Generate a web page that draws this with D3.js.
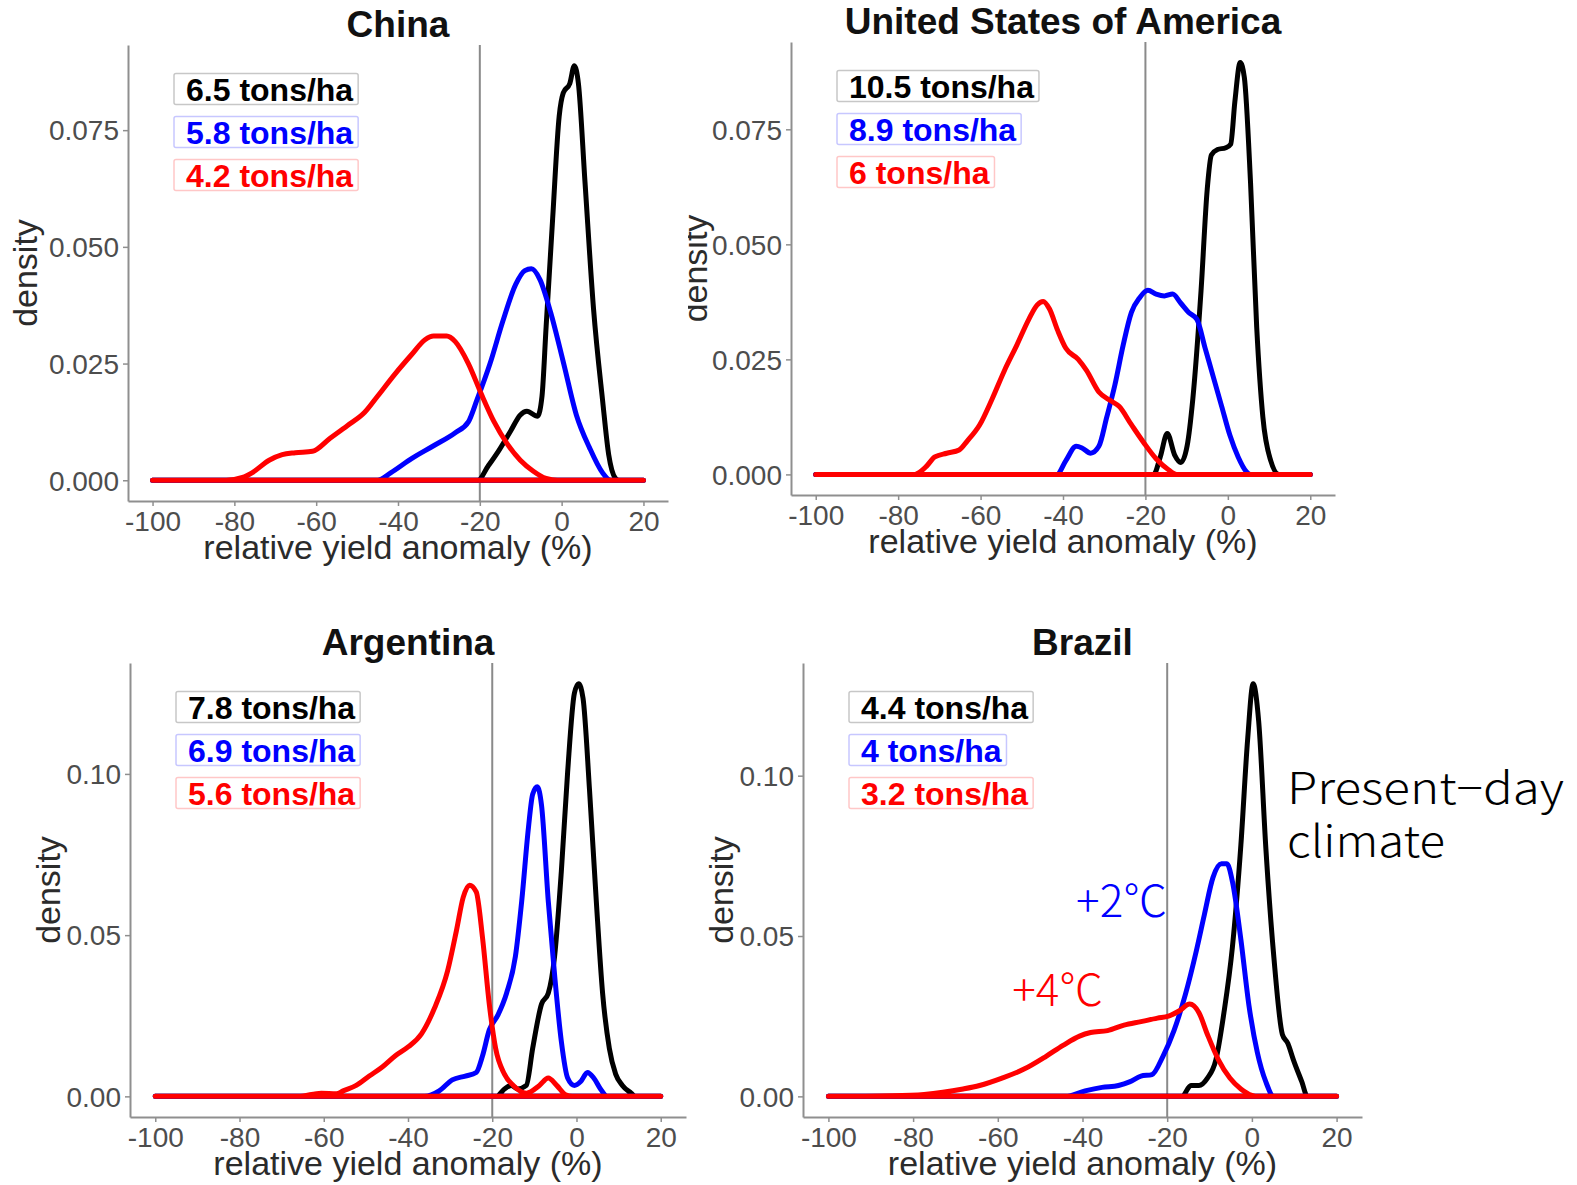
<!DOCTYPE html>
<html>
<head>
<meta charset="utf-8">
<script src="https://cdn.jsdelivr.net/npm/d3@7"></script>
<style>
  body { margin: 0; background: #ffffff; }
  svg { display: block; }
</style>
</head>
<body>
<svg id="fig" width="1577" height="1185"></svg>
<script>
// ---------- shared axis values ----------
const xTicks = [-100, -80, -60, -40, -20, 0, 20];
const yTicksFine = [0, 0.025, 0.05, 0.075];
const yTicksCoarse = [0, 0.05, 0.10];
const thresholdLine = -20;               // reference anomaly (%)
const seriesColors = ["#000000", "#0000ff", "#ff0000"];

// ---------- panel titles and mean yields ----------
const panelTitles = ["China", "United States of America", "Argentina", "Brazil"];
const chinaYields = ["6.5 tons/ha", "5.8 tons/ha", "4.2 tons/ha"];
const usaYields = ["10.5 tons/ha", "8.9 tons/ha", "6 tons/ha"];
const argentinaYields = ["7.8 tons/ha", "6.9 tons/ha", "5.6 tons/ha"];
const brazilYields = ["4.4 tons/ha", "4 tons/ha", "3.2 tons/ha"];

// ---------- density curves: [relative yield anomaly (%), density] ----------
const chinaPresent = [[-100,0],[-20.5,0],[-18,0.003],[-15.4,0.0063],[-12.5,0.0105],[-10.1,0.014],[-8.5,0.0148],[-5.9,0.0137],[-4.8,0.018],[-3.8,0.0328],[-2.2,0.056],[-0.6,0.078],[0.4,0.083],[2,0.085],[3.1,0.0888],[4.1,0.085],[5.7,0.064],[7.8,0.0367],[10,0.0172],[11.5,0.0055],[13.1,0.0005],[14,0],[20,0]];
const chinaPlus2 = [[-100,0],[-45,0],[-41.8,0.0016],[-36.6,0.0047],[-31.3,0.0074],[-26,0.0102],[-22.8,0.0125],[-20.7,0.0172],[-17.5,0.025],[-14.4,0.034],[-11.2,0.042],[-9,0.0449],[-7.4,0.0453],[-5.3,0.043],[-2.7,0.036],[0.5,0.025],[3.6,0.014],[6.8,0.007],[10,0.0016],[12,0],[20,0]];
const chinaPlus4 = [[-100,0],[-82,0],[-78,0.0006],[-75.7,0.0016],[-71.5,0.0043],[-68.3,0.0055],[-65.1,0.0059],[-60.9,0.0062],[-56.6,0.009],[-52.4,0.0117],[-48.2,0.0145],[-45,0.018],[-40.8,0.0227],[-36.6,0.027],[-33.4,0.0301],[-31.3,0.0309],[-28.1,0.0309],[-26,0.0297],[-22.8,0.025],[-19.6,0.0184],[-16.5,0.0125],[-13.3,0.0078],[-10.1,0.0043],[-7,0.002],[-3.8,0.0004],[-1,0],[20,0]];

const usaPresent = [[-100,0],[-18,0],[-16.4,0.0038],[-14.7,0.0089],[-12.9,0.0042],[-11.4,0.0026],[-9.9,0.0061],[-8.5,0.0164],[-6.5,0.040],[-5,0.062],[-4,0.0694],[-2.5,0.0706],[-0.5,0.071],[0.7,0.0718],[1.7,0.081],[3,0.0895],[4,0.0863],[5.5,0.0635],[7,0.032],[8.5,0.0124],[10.4,0.003],[12.4,0],[20,0]];
const usaPlus2 = [[-100,0],[-41.5,0],[-39.3,0.003],[-36.8,0.0061],[-35.3,0.0057],[-33.3,0.0046],[-31.3,0.0061],[-29.4,0.0124],[-27.4,0.0195],[-25.4,0.0281],[-23.4,0.0352],[-21.4,0.0384],[-19.4,0.040],[-17.4,0.0392],[-15.4,0.0388],[-13.4,0.0392],[-11.4,0.0372],[-9.5,0.0352],[-7.5,0.0337],[-5.5,0.0274],[-3.5,0.0211],[-1.5,0.0148],[0.5,0.0085],[2.5,0.0038],[4.5,0.0006],[5.5,0],[20,0]];
const usaPlus4 = [[-100,0],[-76,0],[-75.1,0.0003],[-73.1,0.0018],[-71.1,0.0038],[-68.2,0.0046],[-65.2,0.0053],[-63.2,0.0073],[-60.2,0.0108],[-57.2,0.0164],[-54.2,0.0226],[-51.2,0.0281],[-48.3,0.0337],[-46.3,0.0368],[-44.8,0.0376],[-43.3,0.036],[-41.3,0.0313],[-39.3,0.0274],[-36.3,0.025],[-34.3,0.0226],[-31.3,0.0179],[-28.4,0.016],[-26.4,0.0148],[-23.4,0.0108],[-20.4,0.0069],[-17.4,0.0034],[-14.4,0.001],[-12.4,0],[20,0]];

const argentinaPresent = [[-100,0],[-19,0],[-17.1,0.0023],[-15.5,0.0034],[-14,0.0023],[-11.9,0.0034],[-10.4,0.0149],[-8.3,0.0286],[-6.7,0.032],[-5.2,0.0434],[-3.6,0.0697],[-2.1,0.1006],[-0.5,0.125],[0.5,0.128],[1.55,0.1235],[3.1,0.0949],[4.7,0.0606],[6.2,0.032],[7.8,0.0149],[9.3,0.0069],[10.9,0.0034],[13,0.001],[14,0],[20,0]];
const argentinaPlus2 = [[-100,0],[-36,0],[-32.6,0.0017],[-29.5,0.0051],[-26.4,0.0063],[-23.8,0.0074],[-22.3,0.0126],[-20.7,0.0206],[-18.7,0.0251],[-16.6,0.032],[-14.5,0.0434],[-13,0.0606],[-11.4,0.0834],[-10.4,0.0937],[-9.3,0.096],[-8.3,0.0903],[-6.7,0.0606],[-5.2,0.0377],[-3.6,0.0171],[-2.1,0.0057],[-0.5,0.0034],[1,0.0046],[2.6,0.0074],[4.1,0.0057],[5.7,0.0023],[7.3,0],[20,0]];
const argentinaPlus4 = [[-100,0],[-66,0],[-60.6,0.001],[-57,0.0008],[-55.4,0.0017],[-52.3,0.0034],[-49.2,0.0063],[-46.1,0.0091],[-43,0.0126],[-39.9,0.0154],[-36.8,0.0194],[-33.7,0.0274],[-30.6,0.0389],[-28.5,0.0514],[-26.9,0.0617],[-25.4,0.0655],[-23.8,0.0634],[-22.3,0.0491],[-20.7,0.0286],[-19.2,0.0149],[-17.1,0.0069],[-15,0.0034],[-11.9,0.001],[-8.8,0.0034],[-6.7,0.0057],[-4.7,0.0034],[-2.6,0.0005],[-1,0],[20,0]];

const brazilPresent = [[-100,0],[-16.5,0],[-14.4,0.0034],[-12.5,0.0034],[-10.5,0.0057],[-8.5,0.0114],[-6.6,0.0261],[-4.6,0.0466],[-2.6,0.0784],[-1,0.1114],[0.3,0.1287],[1.6,0.117],[3.3,0.0773],[5.2,0.0432],[7.2,0.0193],[8.5,0.0165],[9.8,0.0114],[11.8,0.0045],[13.1,0],[20,0]];
const brazilPlus2 = [[-100,0],[-44,0],[-39.4,0.0017],[-35.4,0.0028],[-31.5,0.0034],[-28.9,0.0045],[-26.2,0.0063],[-23.6,0.0068],[-21,0.0125],[-18.4,0.0205],[-15.7,0.0318],[-13.1,0.0455],[-11.2,0.0568],[-9.2,0.0682],[-7.2,0.0725],[-5.9,0.0725],[-4.6,0.067],[-2.6,0.0489],[-0.7,0.0284],[1.3,0.0136],[3.3,0.0045],[5.2,0],[20,0]];
const brazilPlus4 = [[-100,0],[-85,0.0002],[-77.4,0.0006],[-68.2,0.0023],[-64.3,0.0034],[-59,0.0057],[-53.8,0.0085],[-48.6,0.0125],[-44.6,0.0159],[-40.7,0.0188],[-38.1,0.0199],[-34.1,0.0205],[-30.2,0.0222],[-26.2,0.0233],[-22.3,0.0244],[-19.7,0.025],[-17.1,0.0267],[-14.7,0.0288],[-12.5,0.0261],[-10.5,0.0193],[-7.9,0.0114],[-5.2,0.0057],[-2.6,0.0023],[0,0.0003],[1.5,0],[20,0]];

// ---------- scenario labels placed in the Brazil panel (data coords) ----------
const scenarioLabels = [
  { lines: ["Present\u2212day", "climate"], x: 8.3, y: [0.0911, 0.0745], widths: [277, 158], color: "#000000", anchor: "start", size: 44 },
  { lines: ["+2\u2103"], x: -20, y: [0.0558], widths: [null], color: "#0000ff", anchor: "end", size: 44 },
  { lines: ["+4\u2103"], x: -35.1, y: [0.0282], widths: [null], color: "#ff0000", anchor: "end", size: 44 }
];

// ---------- layout ----------
const sansFont = "'Liberation Sans', Arial, Helvetica, sans-serif";
const annotFont = "'Noto Sans CJK KR', 'Noto Sans', sans-serif";

const panels = [
  { title: panelTitles[0], yields: chinaYields, series: [chinaPresent, chinaPlus2, chinaPlus4],
    yTicks: yTicksFine, yFmt: d3.format(".3f"), box: { left: 128, right: 668, top: 45, bottom: 501 }, ylabX: 37 },
  { title: panelTitles[1], yields: usaYields, series: [usaPresent, usaPlus2, usaPlus4],
    yTicks: yTicksFine, yFmt: d3.format(".3f"), box: { left: 791, right: 1335, top: 42, bottom: 495 }, ylabX: 707, ylabClip: 688 },
  { title: panelTitles[2], yields: argentinaYields, series: [argentinaPresent, argentinaPlus2, argentinaPlus4],
    yTicks: yTicksCoarse, yFmt: d3.format(".2f"), box: { left: 130, right: 686, top: 663, bottom: 1117 }, ylabX: 60 },
  { title: panelTitles[3], yields: brazilYields, series: [brazilPresent, brazilPlus2, brazilPlus4],
    yTicks: yTicksCoarse, yFmt: d3.format(".2f"), box: { left: 803, right: 1362, top: 663, bottom: 1117 }, ylabX: 733,
    labels: scenarioLabels }
];

const svg = d3.select("#fig");
svg.append("rect").attr("width", 1577).attr("height", 1185).attr("fill", "#ffffff");
const defs = svg.append("defs");

panels.forEach((p, pi) => {
  const b = p.box;
  const g = svg.append("g").attr("class", "panel");

  // ggplot-style 5% expansion on both axes
  const xLo = d3.min(xTicks), xHi = d3.max(xTicks), xPad = (xHi - xLo) * 0.05;
  const x = d3.scaleLinear().domain([xLo - xPad, xHi + xPad]).range([b.left, b.right]);
  const yMax = d3.max(p.series, s => d3.max(s, d => d[1]));
  const y = d3.scaleLinear().domain([-yMax * 0.05, yMax * 1.05]).range([b.bottom, b.top]);

  // axes (plain hyphen for negative tick labels)
  const yAxis = d3.axisLeft(y).tickValues(p.yTicks).tickFormat(p.yFmt).tickSizeInner(5).tickSizeOuter(0).tickPadding(4);
  const xAxis = d3.axisBottom(x).tickValues(xTicks).tickFormat(d => String(d)).tickSizeInner(5).tickSizeOuter(0).tickPadding(4);

  const gy = g.append("g").attr("transform", `translate(${b.left},0)`).call(yAxis);
  const gx = g.append("g").attr("transform", `translate(0,${b.bottom})`).call(xAxis);
  [gx, gy].forEach(ax => {
    ax.select(".domain").attr("stroke", "#8f8f8f").attr("stroke-width", 2);
    ax.selectAll(".tick line").attr("stroke", "#8f8f8f").attr("stroke-width", 1.5);
    ax.selectAll(".tick text").attr("fill", "#4d4d4d").attr("font-size", 28).attr("font-family", sansFont);
  });
  gx.selectAll(".tick text").attr("dy", null).attr("y", 30);
  gy.selectAll(".tick text").attr("dy", "0.35em");

  // vertical reference at -20 %
  g.append("line")
    .attr("x1", x(thresholdLine)).attr("x2", x(thresholdLine))
    .attr("y1", b.top).attr("y2", b.bottom)
    .attr("stroke", "#8a8a8a").attr("stroke-width", 2);

  // density outlines (upper curve plus the zero baseline, as a closed outline)
  const outline = d3.area()
    .x(d => x(d[0])).y0(y(0)).y1(d => y(d[1]))
    .curve(d3.curveMonotoneX);
  p.series.forEach((s, si) => {
    g.append("path").datum(s)
      .attr("d", outline)
      .attr("fill", "none")
      .attr("stroke", seriesColors[si])
      .attr("stroke-width", 5)
      .attr("stroke-linejoin", "round")
      .attr("stroke-linecap", "round");
  });

  // title
  g.append("text")
    .attr("x", (b.left + b.right) / 2).attr("y", b.top - 8)
    .attr("text-anchor", "middle")
    .attr("font-family", sansFont).attr("font-weight", "bold").attr("font-size", 37)
    .attr("fill", "#111111")
    .text(p.title);

  // axis titles
  g.append("text")
    .attr("x", (b.left + b.right) / 2).attr("y", b.bottom + 58)
    .attr("text-anchor", "middle")
    .attr("font-family", sansFont).attr("font-size", 34).attr("fill", "#2b2b2b")
    .text("relative yield anomaly (%)");

  const ylWrap = g.append("g");
  ylWrap.append("text")
    .attr("transform", `translate(${p.ylabX},${(b.top + b.bottom) / 2}) rotate(-90)`)
    .attr("text-anchor", "middle")
    .attr("font-family", sansFont).attr("font-size", 34).attr("fill", "#2b2b2b")
    .text("density");
  if (p.ylabClip) {
    const id = "ylab-clip-" + pi;
    defs.append("clipPath").attr("id", id)
      .append("rect").attr("x", p.ylabClip).attr("y", b.top).attr("width", 200).attr("height", b.bottom - b.top);
    ylWrap.attr("clip-path", `url(#${id})`);
  }

  // mean-yield labels, one per scenario
  p.yields.forEach((lab, i) => {
    const cy = b.top + 44 + i * 43;
    const lg = g.append("g");
    const bx = lg.append("rect");
    const tx = lg.append("text")
      .attr("x", b.left + 46 + 12).attr("y", cy + 11.5)
      .attr("font-family", sansFont).attr("font-weight", "bold").attr("font-size", 32)
      .attr("fill", seriesColors[i])
      .text(lab);
    const w = tx.node().getComputedTextLength();
    bx.attr("x", b.left + 46).attr("y", cy - 15.5)
      .attr("width", w + 12 + 5).attr("height", 31)
      .attr("rx", 2)
      .attr("fill", "#ffffff")
      .attr("stroke", seriesColors[i]).attr("stroke-opacity", 0.22).attr("stroke-width", 1.5);
  });

  // scenario annotations
  (p.labels || []).forEach(a => {
    a.lines.forEach((ln, k) => {
      const t = g.append("text")
        .attr("x", x(a.x)).attr("y", y(a.y[k]))
        .attr("text-anchor", a.anchor)
        .attr("font-family", annotFont).attr("font-weight", 300).attr("font-size", a.size)
        .attr("fill", a.color)
        .text(ln);
      if (a.widths[k]) t.attr("textLength", a.widths[k]).attr("lengthAdjust", "spacingAndGlyphs");
    });
  });
});
</script>
</body>
</html>
